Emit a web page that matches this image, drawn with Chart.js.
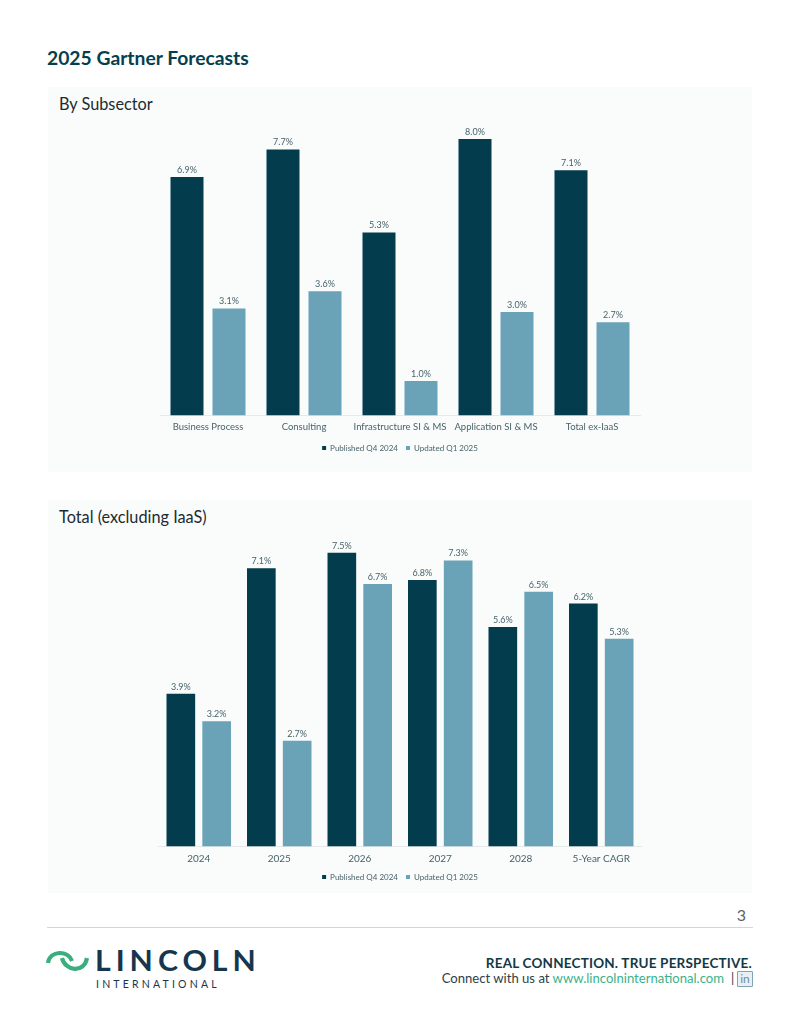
<!DOCTYPE html>
<html>
<head>
<meta charset="utf-8">
<title>2025 Gartner Forecasts</title>
<script src="https://cdn.jsdelivr.net/npm/chart.js@4"></script>
<style>
  html, body { margin: 0; padding: 0; background: #fff; }
  body { position: relative; width: 800px; height: 1035px; overflow: hidden; font-family: Lato, sans-serif; color: #17323c; }
  .abs { position: absolute; white-space: nowrap; }
  .panel { position: absolute; left: 48px; width: 704px; background: #fafcfc; }
  .panel canvas { position: absolute; left: 0; top: 0; }
  .panel h2 { position: absolute; left: 11px; top: 7px; margin: 0; font-size: 16.3px; font-weight: 400; color: #1c2b30; }
  h1 { position: absolute; left: 47px; top: 46px; margin: 0; font-size: 19.3px; font-weight: 700; color: #053f4f; white-space: nowrap; }
</style>
</head>
<body>
<h1>2025 Gartner Forecasts</h1>

<div class="panel" style="top:87px;height:385px">
  <h2>By Subsector</h2>
  <canvas id="chart-subsector" width="704" height="385"></canvas>
</div>

<div class="panel" style="top:500px;height:393px">
  <h2>Total (excluding IaaS)</h2>
  <canvas id="chart-total" width="704" height="393"></canvas>
</div>

<div class="abs" style="right:54px;top:905px;font-size:16px;color:#5a6468">3</div>
<div class="abs" style="left:47px;top:927px;width:706px;height:1px;background:#d4d6d6"></div>

<!-- logo -->
<svg class="abs" style="left:46px;top:948px" width="44" height="26" viewBox="0 0 44 26">
  <path d="M2 15 C4 2 22 2 26 13" fill="none" stroke="#3bae7e" stroke-width="4.2"/>
  <path d="M16 10 C19 23 38 26 41 10" fill="none" stroke="#3bae7e" stroke-width="4.2"/>
</svg>
<div class="abs" style="left:95px;top:943px;font-size:28px;font-weight:700;letter-spacing:4.6px;color:#17364d;transform:scaleX(1.08);transform-origin:left top">LINCOLN</div>
<div class="abs" style="left:96px;top:978px;font-size:10.5px;letter-spacing:3.2px;color:#17364d">INTERNATIONAL</div>

<div class="abs" style="right:48px;top:955px;font-size:13.5px;font-weight:700;letter-spacing:.2px;color:#123a45">REAL CONNECTION. TRUE PERSPECTIVE.</div>
<div class="abs" style="right:76px;top:970px;font-size:13.1px;color:#2c4148">Connect with us at <span style="color:#3bb28a">www.lincolninternational.com</span></div>
<div class="abs" style="left:731px;top:970px;font-size:13px;color:#2c4148">|</div>
<div class="abs" style="left:737px;top:971px;width:14px;height:14px;border:1px solid #7fa3b3;border-radius:1px;background:#e8f0f3;font-size:12px;line-height:14px;text-align:center;color:#6f8f9e">in</div>

<script>
// Series shared by both charts
const seriesNames = ["Published Q4 2024", "Updated Q1 2025"];

const subsectorLabels = ["Business Process", "Consulting", "Infrastructure SI & MS", "Application SI & MS", "Total ex-IaaS"];
const subsectorPublished = [6.9, 7.7, 5.3, 8.0, 7.1];
const subsectorUpdated = [3.1, 3.6, 1.0, 3.0, 2.7];

const totalLabels = ["2024", "2025", "2026", "2027", "2028", "5-Year CAGR"];
const totalPublished = [3.9, 7.1, 7.5, 6.8, 5.6, 6.2];
const totalUpdated = [3.2, 2.7, 6.7, 7.3, 6.5, 5.3];

const DARK = "#023c4d";
const LIGHT = "#6aa2b8";
const TEXT = "#47626b";

// Prints the value above each bar
const valueLabels = {
  id: "valueLabels",
  afterDatasetsDraw(chart) {
    const { ctx } = chart;
    ctx.save();
    ctx.font = "9px Lato";
    ctx.fillStyle = TEXT;
    ctx.textAlign = "center";
    ctx.textBaseline = "bottom";
    chart.data.datasets.forEach((ds, i) => {
      chart.getDatasetMeta(i).data.forEach((bar, j) => {
        ctx.fillText(ds.data[j].toFixed(1) + "%", bar.x, bar.y - 2.5);
      });
    });
    ctx.restore();
  }
};

function makeChart(id, labels, published, updated, opts) {
  return new Chart(document.getElementById(id), {
    type: "bar",
    data: {
      labels,
      datasets: [
        { label: seriesNames[0], data: published, backgroundColor: DARK },
        { label: seriesNames[1], data: updated, backgroundColor: LIGHT }
      ]
    },
    options: {
      responsive: false,
      animation: false,
      categoryPercentage: opts.categoryPercentage,
      barPercentage: opts.barPercentage,
      layout: { padding: opts.padding },
      scales: {
        x: {
          grid: { display: false, drawTicks: false },
          border: { color: "#e4e9e9" },
          ticks: { color: TEXT, font: { family: "Lato", size: opts.tickSize }, padding: 6, maxRotation: 0, autoSkip: false },
          // let the plot run closer to the legend than the tick labels would allow
          afterFit(scale) { scale.height -= opts.axisTrim; }
        },
        y: { display: false, min: 0, max: opts.max }
      },
      plugins: {
        tooltip: { enabled: false },
        legend: {
          position: "bottom",
          labels: { color: TEXT, font: { family: "Lato", size: 8 }, boxWidth: 4, boxHeight: 4, padding: 8 }
        }
      }
    },
    plugins: [valueLabels]
  });
}

makeChart("chart-subsector", subsectorLabels, subsectorPublished, subsectorUpdated, {
  max: 9, categoryPercentage: 0.875, barPercentage: 0.786, tickSize: 9.5, axisTrim: 3,
  padding: { left: 112, right: 112, top: 17.5, bottom: 10 }
});

makeChart("chart-total", totalLabels, totalPublished, totalUpdated, {
  max: 8.5, categoryPercentage: 0.89, barPercentage: 0.8, tickSize: 10, axisTrim: 5.5,
  padding: { left: 110.5, right: 110.5, top: 13.5, bottom: 2 }
});
</script>
</body>
</html>
